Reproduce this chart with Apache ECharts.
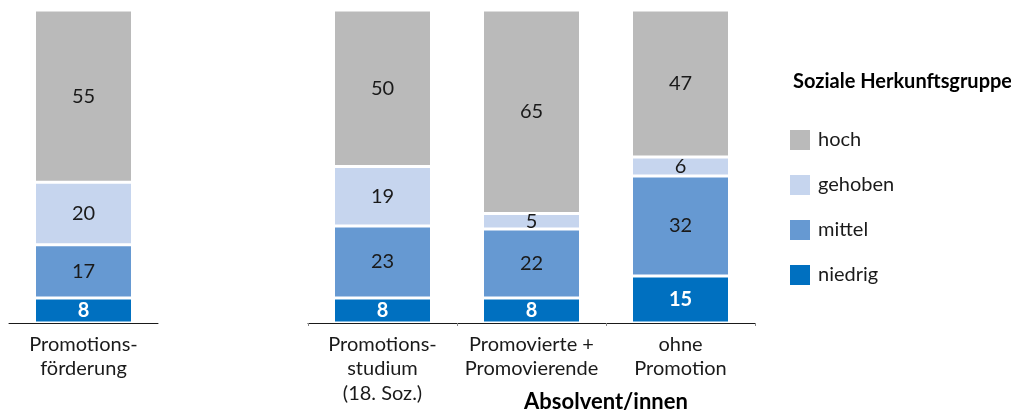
<!DOCTYPE html>
<html>
<head>
<meta charset="utf-8">
<script src="https://cdn.jsdelivr.net/npm/echarts@6/dist/echarts.min.js"></script>
<style>
  html, body { margin: 0; padding: 0; background: #fff; }
  #chart { width: 1011px; height: 411px; }
</style>
</head>
<body>
<div id="chart"></div>
<script>
// Categories: single group on the left, the graduate groups on the right
const leftCategories = ['Promotions-\nförderung'];
const rightCategories = ['Promotions-\nstudium\n(18. Soz.)', 'Promovierte +\nPromovierende', 'ohne\nPromotion'];

// Shares per social background group (percent)
const niedrigLeft = [8];
const mittelLeft = [17];
const gehobenLeft = [20];
const hochLeft = [55];

const niedrigRight = [8, 8, 15];
const mittelRight = [23, 22, 32];
const gehobenRight = [19, 5, 6];
const hochRight = [50, 65, 47];

const groupNames = ['hoch', 'gehoben', 'mittel', 'niedrig'];
const legendTitle = 'Soziale Herkunftsgruppe';
const groupTitle = 'Absolvent/innen';

const colors = {
  niedrig: '#0070C0',
  mittel: '#6699D2',
  gehoben: '#C6D5EE',
  hoch: '#BABABA'
};

const FONT = 'Lato, "Open Sans", sans-serif';

function makeSeries(name, data, axisIndex, dark) {
  return {
    name: name,
    type: 'bar',
    stack: 'total' + axisIndex,
    xAxisIndex: axisIndex,
    yAxisIndex: axisIndex,
    barWidth: 98,
    data: data,
    itemStyle: { color: colors[name], borderColor: '#ffffff', borderWidth: 1.5 },
    label: {
      show: true,
      position: 'inside',
      fontFamily: FONT,
      fontSize: 20,
      color: dark ? '#ffffff' : '#1a1a1a',
      fontWeight: dark ? 'bold' : 'normal'
    },
    emphasis: { disabled: true }
  };
}

const axisLabelStyle = {
  fontFamily: FONT,
  fontSize: 20,
  color: '#1a1a1a',
  lineHeight: 24.5,
  margin: 9,
  interval: 0
};

const chart = echarts.init(document.getElementById('chart'), null, { renderer: 'canvas' });
chart.setOption({
  animation: false,
  backgroundColor: '#ffffff',
  grid: [
    { left: 9, width: 149, top: 10, bottom: 88 },
    { left: 308, width: 447, top: 10, bottom: 88 }
  ],
  xAxis: [
    {
      type: 'category', gridIndex: 0, data: leftCategories,
      axisLine: { lineStyle: { color: '#1a1a1a', width: 1 } },
      axisTick: { show: false },
      axisLabel: axisLabelStyle
    },
    {
      type: 'category', gridIndex: 1, data: rightCategories,
      axisLine: { lineStyle: { color: '#1a1a1a', width: 1 } },
      axisTick: { show: true, length: 3, lineStyle: { color: '#888888' } },
      axisLabel: axisLabelStyle
    }
  ],
  yAxis: [
    { type: 'value', gridIndex: 0, min: 0, max: 100, show: false },
    { type: 'value', gridIndex: 1, min: 0, max: 100, show: false }
  ],
  legend: {
    orient: 'vertical',
    left: 788,
    top: 128,
    padding: 0,
    data: groupNames,
    icon: 'rect',
    itemWidth: 22,
    itemHeight: 22,
    itemGap: 21,
    selectedMode: false,
    textStyle: { fontFamily: FONT, fontSize: 20, lineHeight: 22, color: '#1a1a1a', padding: [0, 0, 0, 2] }
  },
  graphic: [
    {
      type: 'text', x: 793, y: 82,
      style: { text: legendTitle, fontFamily: FONT, fontSize: 20, fontWeight: 'bold', fill: '#000000', verticalAlign: 'middle' }
    },
    {
      type: 'text', x: 606, y: 402,
      style: { text: groupTitle, fontFamily: FONT, fontSize: 22, fontWeight: 'bold', fill: '#000000', align: 'center', verticalAlign: 'middle' }
    }
  ],
  series: [
    makeSeries('niedrig', niedrigLeft, 0, true),
    makeSeries('mittel', mittelLeft, 0, false),
    makeSeries('gehoben', gehobenLeft, 0, false),
    makeSeries('hoch', hochLeft, 0, false),
    makeSeries('niedrig', niedrigRight, 1, true),
    makeSeries('mittel', mittelRight, 1, false),
    makeSeries('gehoben', gehobenRight, 1, false),
    makeSeries('hoch', hochRight, 1, false)
  ]
});
</script>
</body>
</html>
